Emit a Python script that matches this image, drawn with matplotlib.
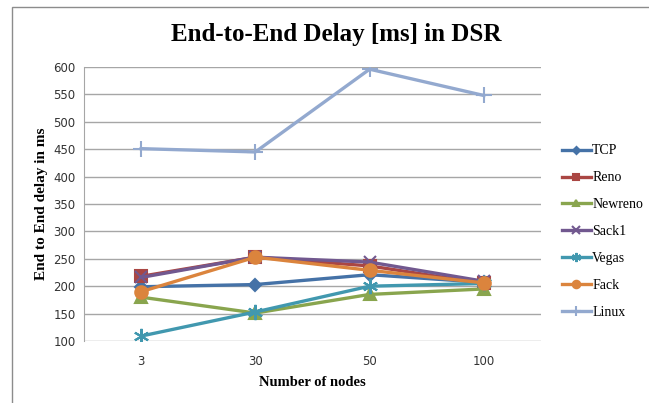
import matplotlib.pyplot as plt
from matplotlib.patches import Rectangle

nodes = ["3", "30", "50", "100"]

tcp = [199, 203, 221, 207]
reno = [218, 253, 237, 205]
newreno = [180, 151, 185, 195]
sack1 = [216, 253, 244, 209]
vegas = [109, 153, 200, 205]
fack = [190, 253, 229, 206]
linux = [451, 445, 596, 548]

series = [
    ("TCP", tcp, "#4572A7", "D", 6),
    ("Reno", reno, "#AA4643", "s", 8),
    ("Newreno", newreno, "#89A54E", "^", 8),
    ("Sack1", sack1, "#71588F", "x", 9),
    ("Vegas", vegas, "#4198AF", (6, 2, 0), 11),
    ("Fack", fack, "#DB843D", "o", 9),
    ("Linux", linux, "#93A9CF", "+", 11),
]

fig = plt.figure(figsize=(6.49, 4.03), dpi=100)
W, H = 649, 403
ax = fig.add_axes([84 / W, 1 - 341 / H, (541 - 84) / W, (341 - 67) / H])

xs = range(len(nodes))
for name, vals, col, mk, ms in series:
    ax.plot(xs, vals, color=col, lw=2.4, marker=mk, markersize=ms,
            markeredgewidth=1.5, markeredgecolor=col, label=name)

ax.set_xlim(-0.5, 3.5)
ax.set_ylim(100, 600)
ax.set_yticks(range(100, 601, 50))
ax.set_xticks(list(xs))
ax.set_xticklabels(nodes)
ax.grid(axis="y", color="#a6a6a6", lw=1)
ax.set_axisbelow(True)
for s in ["top", "right", "bottom"]:
    ax.spines[s].set_visible(False)
ax.spines["left"].set_color("#a6a6a6")
ax.tick_params(length=0, labelsize=8.5, pad=6, colors="#333333")
ax.tick_params(axis="x", pad=10)

ax.set_ylabel("End to End delay in ms", family="Liberation Serif",
              fontweight="bold", fontsize=11, labelpad=4)
ax.set_xlabel("Number of nodes", family="Liberation Serif",
              fontweight="bold", fontsize=10.5, labelpad=6)
fig.text(336 / W, 1 - 34 / H, "End-to-End Delay [ms] in DSR",
         family="Liberation Serif", fontweight="bold", fontsize=18,
         ha="center", va="center")

leg = ax.legend(loc="upper left", bbox_to_anchor=(549 / W, 1 - 132 / H),
                bbox_transform=fig.transFigure, frameon=False,
                prop={"family": "Liberation Serif", "size": 10},
                labelspacing=1.0, handlelength=2.1, handletextpad=0.1,
                markerscale=0.6)

fig.patches.append(Rectangle((12 / W, -0.1), 1.0, 1.1 - 7 / H,
                             transform=fig.transFigure, fill=False,
                             edgecolor="#8c8c8c", lw=1))

fig.savefig("out.png", dpi=100)
